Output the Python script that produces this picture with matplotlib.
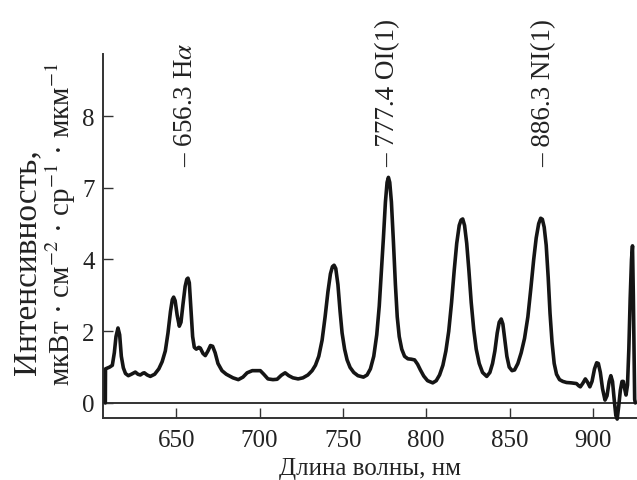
import matplotlib
matplotlib.use("Agg")
import matplotlib.pyplot as plt

plt.rcParams['font.family'] = ['Liberation Serif', 'DejaVu Serif']
plt.rcParams['mathtext.fontset'] = 'stix'

wavelength = [607.4, 607.5, 610.0, 611.6, 612.8, 613.8, 615.0, 616.0, 617.0, 618.2, 619.5, 621.2,
              623.0, 625.4, 627.0, 628.4, 630.0, 630.8, 632.5, 634.4, 637.0, 639.5, 641.5, 643.4,
              645.0, 646.5, 647.6, 648.4, 649.3, 650.5, 651.8, 652.8, 654.0, 655.3, 656.3, 657.0,
              657.8, 658.8, 659.8, 660.8, 662.0, 663.5, 664.4, 666.0, 667.4, 669.0, 670.5, 671.8,
              673.3, 675.0, 677.4, 680.0, 684.0, 687.2, 690.0, 692.5, 695.6, 698.0, 700.4, 702.5,
              705.0, 708.0, 710.5, 713.0, 715.3, 717.5, 720.0, 723.1, 726.0, 729.0, 731.5, 733.5,
              735.5, 737.5, 739.3, 741.0, 742.5, 743.7, 744.7, 745.7, 747.0, 748.3, 749.5, 751.0,
              752.5, 754.3, 756.5, 759.0, 762.3, 764.5, 766.5, 768.5, 770.3, 771.8, 773.0, 774.3,
              775.5, 776.5, 777.3, 778.1, 779.1, 780.3, 781.5, 782.6, 783.8, 785.3, 787.0, 789.0,
              791.0, 793.0, 794.8, 796.5, 798.5, 800.8, 803.9, 806.0, 808.0, 810.0, 811.8, 813.5,
              815.2, 816.8, 818.3, 819.8, 820.9, 821.9, 823.0, 824.3, 825.6, 827.0, 828.5, 830.0,
              831.8, 833.8, 836.3, 838.2, 839.8, 841.2, 842.6, 843.8, 845.0, 846.0, 847.2, 848.4,
              849.8, 851.5, 853.0, 855.0, 857.0, 859.0, 861.0, 862.8, 864.5, 866.0, 867.5, 868.7,
              869.7, 870.8, 872.0, 873.2, 874.3, 875.5, 876.8, 878.2, 880.0, 882.0, 884.2, 887.0,
              890.2, 891.5, 892.5, 894.0, 895.5, 896.8, 898.2, 899.5, 901.0, 902.3, 903.3, 904.5,
              905.8, 907.3, 908.5, 909.8, 910.8, 911.8, 912.8, 913.8, 914.6, 915.5, 916.5, 917.5,
              918.3, 919.3, 919.9, 920.8, 921.6, 922.4, 923.2, 923.8, 924.3, 924.7, 925.1, 925.5]
intensity = [0.0, 0.95, 1.0, 1.05, 1.4, 1.85, 2.09, 1.9, 1.3, 0.98, 0.82, 0.76,
             0.8, 0.86, 0.8, 0.78, 0.83, 0.84, 0.78, 0.74, 0.8, 0.95, 1.15, 1.45,
             1.95, 2.55, 2.88, 2.95, 2.85, 2.45, 2.14, 2.25, 2.75, 3.25, 3.45, 3.48,
             3.35, 2.6, 1.85, 1.55, 1.5, 1.55, 1.53, 1.38, 1.32, 1.45, 1.6, 1.58,
             1.4, 1.1, 0.9, 0.8, 0.7, 0.65, 0.72, 0.84, 0.9, 0.9, 0.9, 0.8,
             0.67, 0.65, 0.66, 0.77, 0.84, 0.76, 0.7, 0.67, 0.7, 0.78, 0.9, 1.05,
             1.3, 1.75, 2.4, 3.1, 3.6, 3.8, 3.84, 3.75, 3.3, 2.55, 1.95, 1.5,
             1.2, 0.99, 0.85, 0.76, 0.72, 0.78, 0.95, 1.3, 1.9, 2.7, 3.6, 4.6,
             5.6, 6.15, 6.29, 6.15, 5.6, 4.5, 3.3, 2.4, 1.85, 1.5, 1.3, 1.23,
             1.22, 1.2, 1.08, 0.92, 0.75, 0.62, 0.56, 0.62, 0.78, 1.05, 1.45, 2.0,
             2.8, 3.7, 4.45, 4.95, 5.1, 5.13, 4.95, 4.45, 3.7, 2.8, 2.05, 1.5,
             1.1, 0.85, 0.74, 0.85, 1.1, 1.45, 1.95, 2.25, 2.34, 2.2, 1.75, 1.3,
             1.0, 0.9, 0.92, 1.1, 1.4, 1.8, 2.4, 3.2, 4.0, 4.6, 5.0, 5.15,
             5.12, 4.9, 4.4, 3.5, 2.5, 1.7, 1.1, 0.8, 0.65, 0.6, 0.57, 0.56,
             0.54, 0.48, 0.45, 0.55, 0.67, 0.58, 0.45, 0.6, 0.95, 1.12, 1.1, 0.85,
             0.4, 0.08, 0.2, 0.6, 0.76, 0.6, 0.1, -0.35, -0.45, -0.1, 0.35, 0.6,
             0.6, 0.35, 0.22, 0.5, 1.5, 2.9, 4.0, 4.38, 3.0, 1.5, 0.1, 0.0]

ytick_pos = [0, 2, 4, 6, 8]
ytick_labels = ["0", "2", "4", "7", "8"]
xtick_pos = [650, 700, 750, 800, 850, 900]

line_labels = ["– 656.3 H$\\alpha$", "– 777.4 OI(1)", "– 886.3 NI(1)"]
line_label_x = [655.4, 776.8, 870.3]

fig = plt.figure(figsize=(6.37, 4.81), dpi=100)
ax = fig.add_axes([103/637, 1 - 419/481, 1 - 103/637, (419 - 55)/481])

ax.plot(wavelength, intensity, color='#151515', lw=2.6, solid_joinstyle='round',
        solid_capstyle='round', clip_on=False, zorder=3)
ax.axhline(0, color='#333333', lw=1.4, zorder=2)

ax.set_xlim(606, 926.5)
ax.set_ylim(-0.42, 9.73)

for s in ['top', 'right']:
    ax.spines[s].set_visible(False)
for s in ['left', 'bottom']:
    ax.spines[s].set_color('#333333')
    ax.spines[s].set_linewidth(1.4)

ax.set_xticks(xtick_pos)
ax.set_yticks(ytick_pos)
ax.set_yticklabels(ytick_labels)
ax.tick_params(direction='in', length=7, width=1.0, colors='#333333', labelcolor='#222222', labelsize=18)
ax.tick_params(axis='x', pad=8)
ax.tick_params(axis='y', pad=6)

for lbl, lx in zip(line_labels, line_label_x):
    ax.text(lx, 6.6, lbl, rotation=90, ha='center', va='bottom', fontsize=19.5, color='#222222', clip_on=False)

ax.set_xlabel("Длина волны, нм", fontsize=18, color='#222222', labelpad=4)

fig.text(27/637, 1 - 262/481, "Интенсивность,", rotation=90, ha='center', va='center', fontsize=24, color='#222222')
fig.text(61/637, 1 - 224/481, "мкВт · см$^{-2}$ · ср$^{-1}$ · мкм$^{-1}$", rotation=90, ha='center', va='center',
         fontsize=21, color='#222222')

fig.savefig("out.png", dpi=100)
